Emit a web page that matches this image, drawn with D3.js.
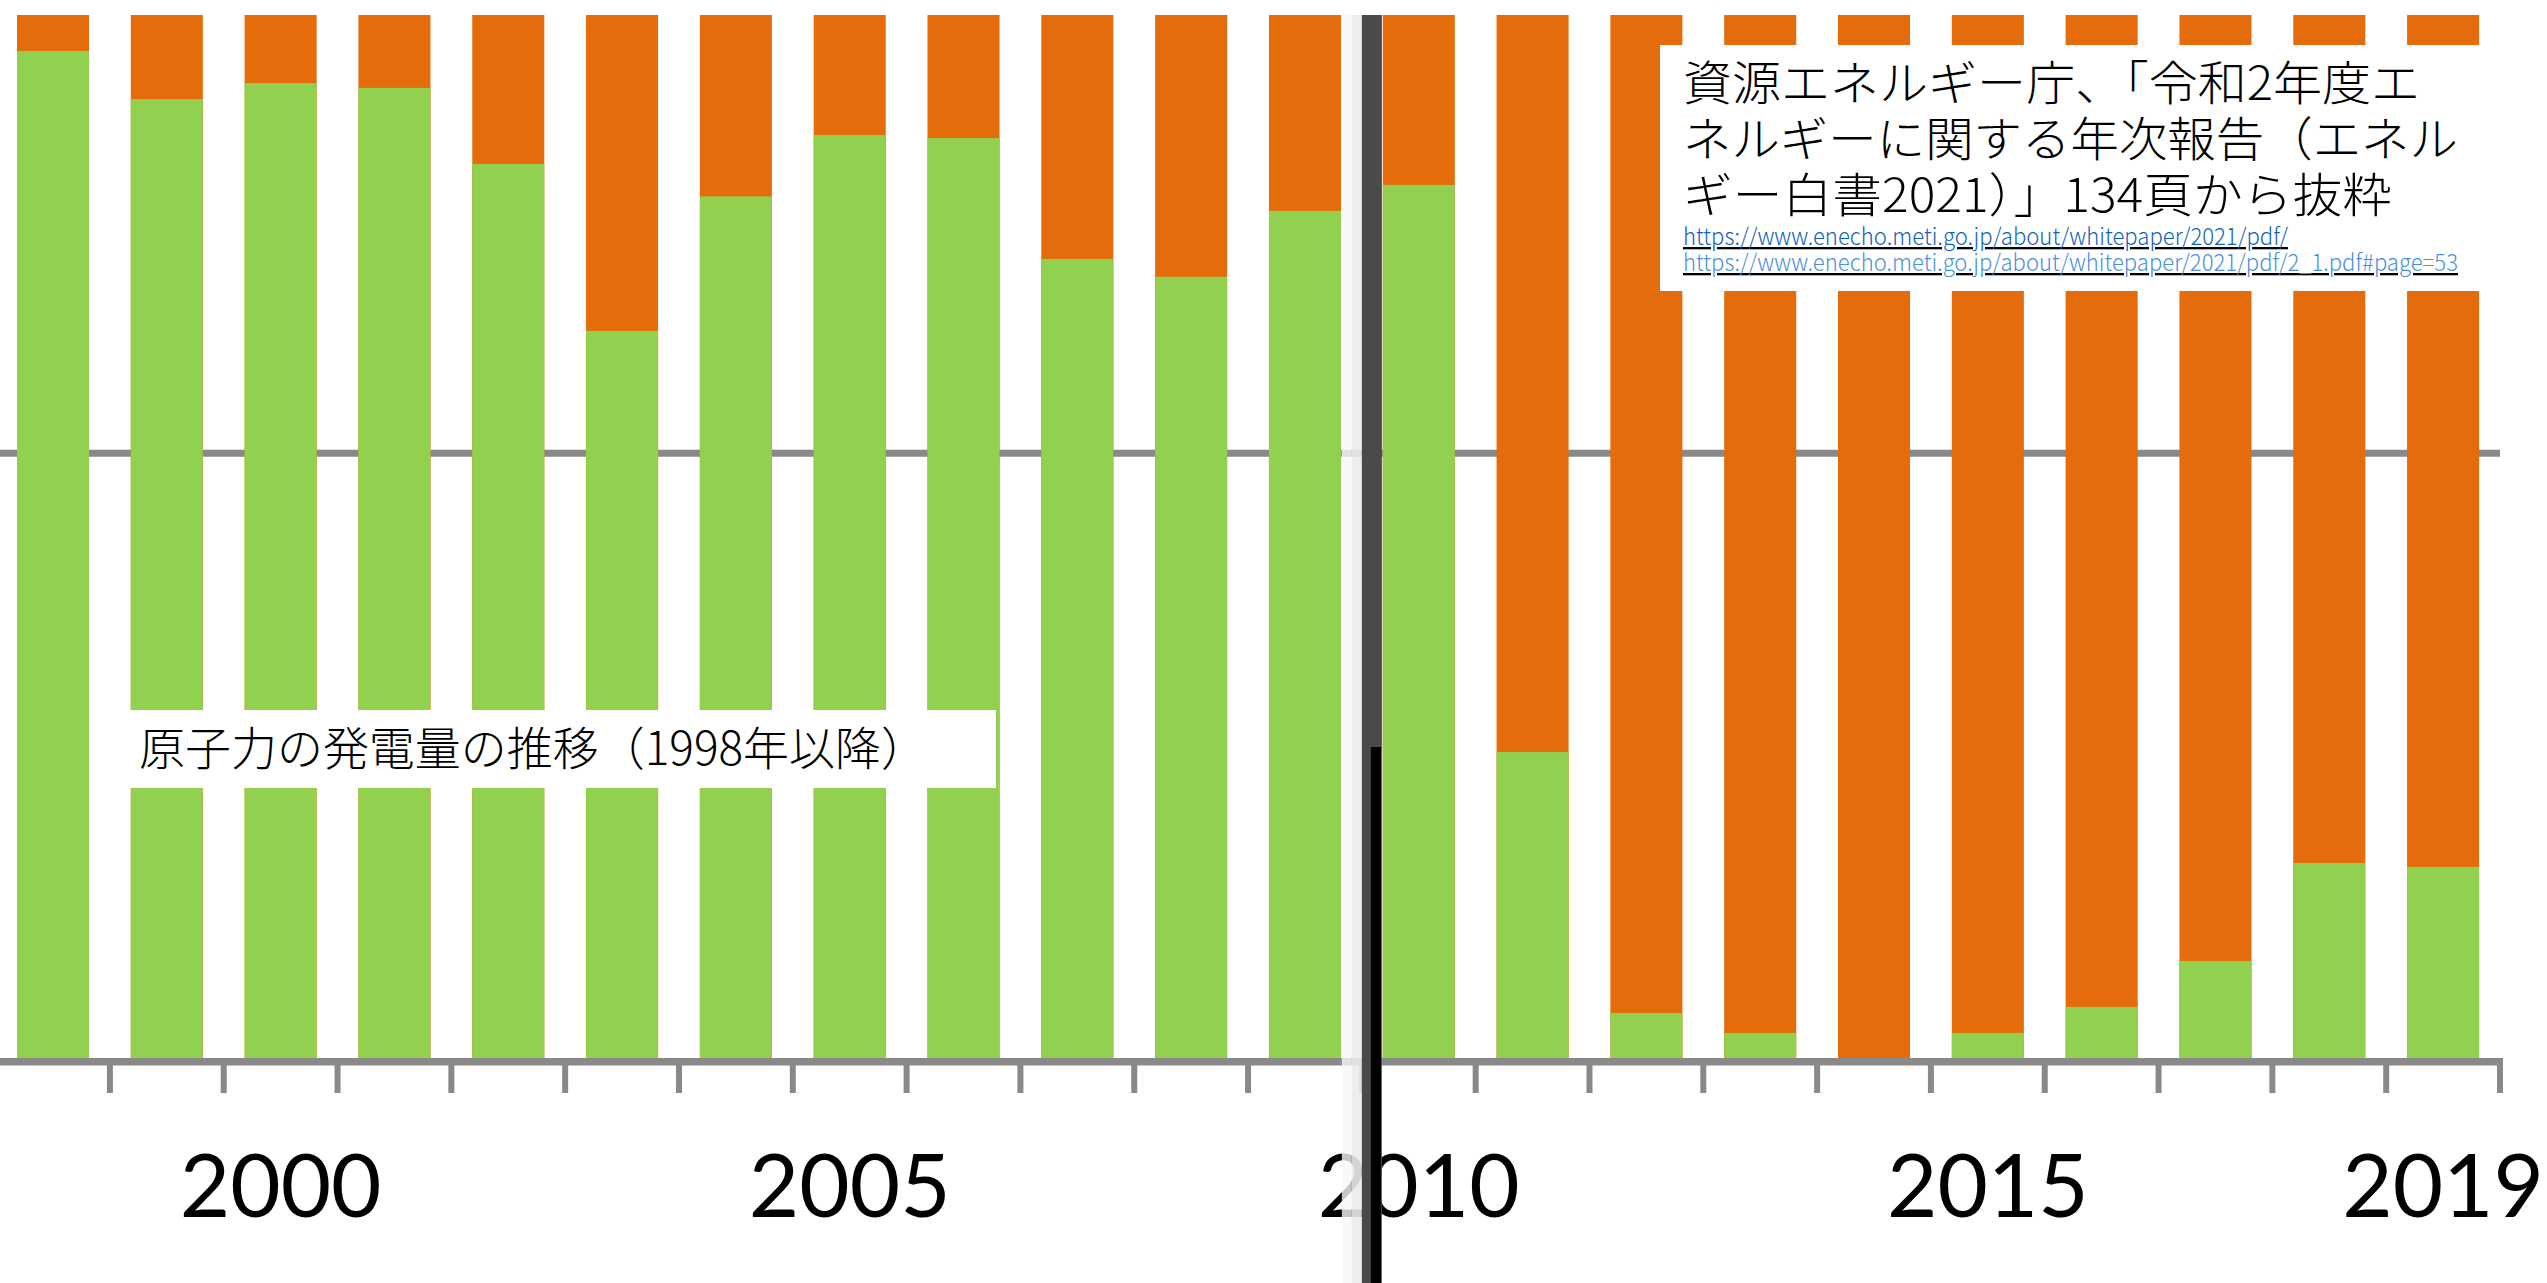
<!DOCTYPE html>
<html lang="ja">
<head>
<meta charset="utf-8">
<title>原子力の発電量の推移（1998年以降）</title>
<script src="https://cdn.jsdelivr.net/npm/d3@7"></script>
<style>
  html, body { margin: 0; padding: 0; background: #fff; }
  svg { display: block; }
  .chart__label { font-family: Lato, "Open Sans", sans-serif; fill: #000; }
  .chart__note { font-family: "Noto Sans CJK JP", sans-serif; font-weight: 300; fill: #000; }
  .chart__link { font-family: "Noto Sans CJK JP", sans-serif; font-weight: 300; text-decoration: underline; }
</style>
</head>
<body>
<div id="chart"></div>
<script>
// Fiscal years on the category axis
const years = ["1998", "1999", "2000", "2001", "2002", "2003", "2004", "2005", "2006", "2007", "2008",
  "2009", "2010", "2011", "2012", "2013", "2014", "2015", "2016", "2017", "2018", "2019"];

// Nuclear generation (億kWh)
const nuclearOutput = [3331, 3172, 3225, 3209, 2957, 2405, 2850, 3053, 3043, 2643, 2584,
  2802, 2888, 1012, 149, 83, 0, 83, 169, 321, 645, 632];

// Top of the cropped value axis (the orange part fills up to here)
const valueTop = 3450;

// Horizontal gridlines
const gridValues = [2000];

// Years that carry a label
const labelYears = ["2000", "2005", "2010", "2015", "2019"];

const titleText = "原子力の発電量の推移（1998年以降）";

const sourceLines = [
  "資源エネルギー庁、「令和2年度エ",
  "ネルギーに関する年次報告（エネル",
  "ギー白書2021）」134頁から抜粋"
];

const sourceLinks = [
  "https://www.enecho.meti.go.jp/about/whitepaper/2021/pdf/",
  "https://www.enecho.meti.go.jp/about/whitepaper/2021/pdf/2_1.pdf#page=53"
];

const W = 2547, H = 1283;
const GREEN = "#92d050", ORANGE = "#e46c0a", GREY = "#898989";

class NuclearChart
{
  constructor()
  {
    this._plot = { left: -3.9, right: 2500, top: 15, bottom: 1058 };
    this._svg = null;
    this._x = null;
    this._y = null;
  }

  init()
  {
    this._svg = d3.select("#chart")
      .append("svg")
      .attr("width", W)
      .attr("height", H)
      .attr("viewBox", `0 0 ${W} ${H}`);

    // Scales
    this._x = d3.scaleBand()
      .domain(years)
      .range([this._plot.left, this._plot.right])
      .paddingInner(0.367)
      .paddingOuter(0.1835);

    this._y = d3.scaleLinear()
      .domain([0, valueTop])
      .range([this._plot.bottom, this._plot.top]);

    return this;
  }

  render()
  {
    const x = this._x, y = this._y, svg = this._svg;
    const gap = x.step() - x.bandwidth();

    // Gridlines (behind the bars)
    svg.append("g")
      .selectAll("line")
      .data(gridValues)
      .join("line")
      .attr("x1", this._plot.left)
      .attr("x2", this._plot.right)
      .attr("y1", d => y(d))
      .attr("y2", d => y(d))
      .attr("stroke", GREY)
      .attr("stroke-width", 7);

    // Orange part: full column up to the crop top
    svg.append("g")
      .selectAll("rect")
      .data(years)
      .join("rect")
      .attr("x", d => x(d))
      .attr("width", x.bandwidth())
      .attr("y", y(valueTop))
      .attr("height", y(0) - y(valueTop))
      .attr("fill", ORANGE);

    // Green part: nuclear generation
    svg.append("g")
      .selectAll("rect")
      .data(years.map((d, i) => ({ year: d, value: nuclearOutput[i] })))
      .join("rect")
      .attr("x", d => x(d.year))
      .attr("width", x.bandwidth())
      .attr("y", d => y(d.value))
      .attr("height", d => y(0) - y(d.value))
      .attr("fill", GREEN);

    // Axis line and tick marks between the categories
    const gAxis = svg.append("g");
    gAxis.append("line")
      .attr("x1", this._plot.left)
      .attr("x2", this._plot.right + 3)
      .attr("y1", y(0) + 3.75)
      .attr("y2", y(0) + 3.75)
      .attr("stroke", GREY)
      .attr("stroke-width", 7.5);

    const bounds = years.map(d => x(d) - gap / 2)
      .concat([x(years[years.length - 1]) + x.bandwidth() + gap / 2]);
    gAxis.selectAll("line.tick")
      .data(bounds)
      .join("line")
      .attr("class", "tick")
      .attr("x1", d => d)
      .attr("x2", d => d)
      .attr("y1", y(0))
      .attr("y2", y(0) + 35)
      .attr("stroke", GREY)
      .attr("stroke-width", 6);

    // Year labels
    const gLabels = svg.append("g")
      .attr("transform", `translate(0,${y(0)})`)
      .call(d3.axisBottom(x).tickValues(labelYears).tickSize(0));
    gLabels.select(".domain").remove();
    gLabels.selectAll("text")
      .attr("class", "chart__label")
      .attr("y", 159)
      .attr("dy", 0)
      .style("font-size", "87px");

    // Title box
    const gTitle = svg.append("g");
    gTitle.append("rect")
      .attr("x", 130).attr("y", 710)
      .attr("width", 866).attr("height", 78)
      .attr("fill", "#fff");
    gTitle.append("text")
      .attr("class", "chart__note")
      .attr("x", 139).attr("y", 765)
      .attr("textLength", 788)
      .attr("lengthAdjust", "spacingAndGlyphs")
      .style("font-size", "46px")
      .text(titleText);

    // Source box: one text block, one tspan per line
    const gSource = svg.append("g");
    gSource.append("rect")
      .attr("x", 1660).attr("y", 45)
      .attr("width", 830).attr("height", 246)
      .attr("fill", "#fff");

    const lineWidths = [737, 775, 709];
    gSource.append("text")
      .attr("class", "chart__note")
      .style("font-size", "47px")
      .selectAll("tspan")
      .data(sourceLines)
      .join("tspan")
      .attr("x", 1683)
      .attr("y", (d, i) => 100 + i * 56)
      .attr("textLength", (d, i) => lineWidths[i])
      .attr("lengthAdjust", "spacingAndGlyphs")
      .text(d => d);

    const linkWidths = [605, 775];
    const linkColors = ["#0f5fc0", "#4b8fd8"];
    gSource.append("text")
      .attr("class", "chart__link")
      .style("font-size", "23px")
      .selectAll("tspan")
      .data(sourceLinks)
      .join("tspan")
      .attr("x", 1683)
      .attr("y", (d, i) => 245 + i * 26)
      .attr("textLength", (d, i) => linkWidths[i])
      .attr("lengthAdjust", "spacingAndGlyphs")
      .attr("fill", (d, i) => linkColors[i])
      .text(d => d);

    // Stitching seam between the two source screenshots (2009 | 2010)
    const seam = x("2010") - gap / 2;
    const gSeam = svg.append("g");
    gSeam.append("rect")
      .attr("x", seam - 20).attr("y", y(valueTop))
      .attr("width", 10).attr("height", H - y(valueTop))
      .attr("fill", "#f8f8f8").attr("opacity", 0.8);
    gSeam.append("rect")
      .attr("x", seam - 10).attr("y", y(valueTop))
      .attr("width", 10).attr("height", H - y(valueTop))
      .attr("fill", "#ebebeb").attr("opacity", 0.9);
    gSeam.append("rect")
      .attr("x", seam).attr("y", y(valueTop))
      .attr("width", 20).attr("height", H - y(valueTop))
      .attr("fill", "#4a4a4a");
    gSeam.append("rect")
      .attr("x", seam + 9).attr("y", 747)
      .attr("width", 10).attr("height", H - 747)
      .attr("fill", "#000");

    return this;
  }
}

new NuclearChart().init().render();
</script>
</body>
</html>
